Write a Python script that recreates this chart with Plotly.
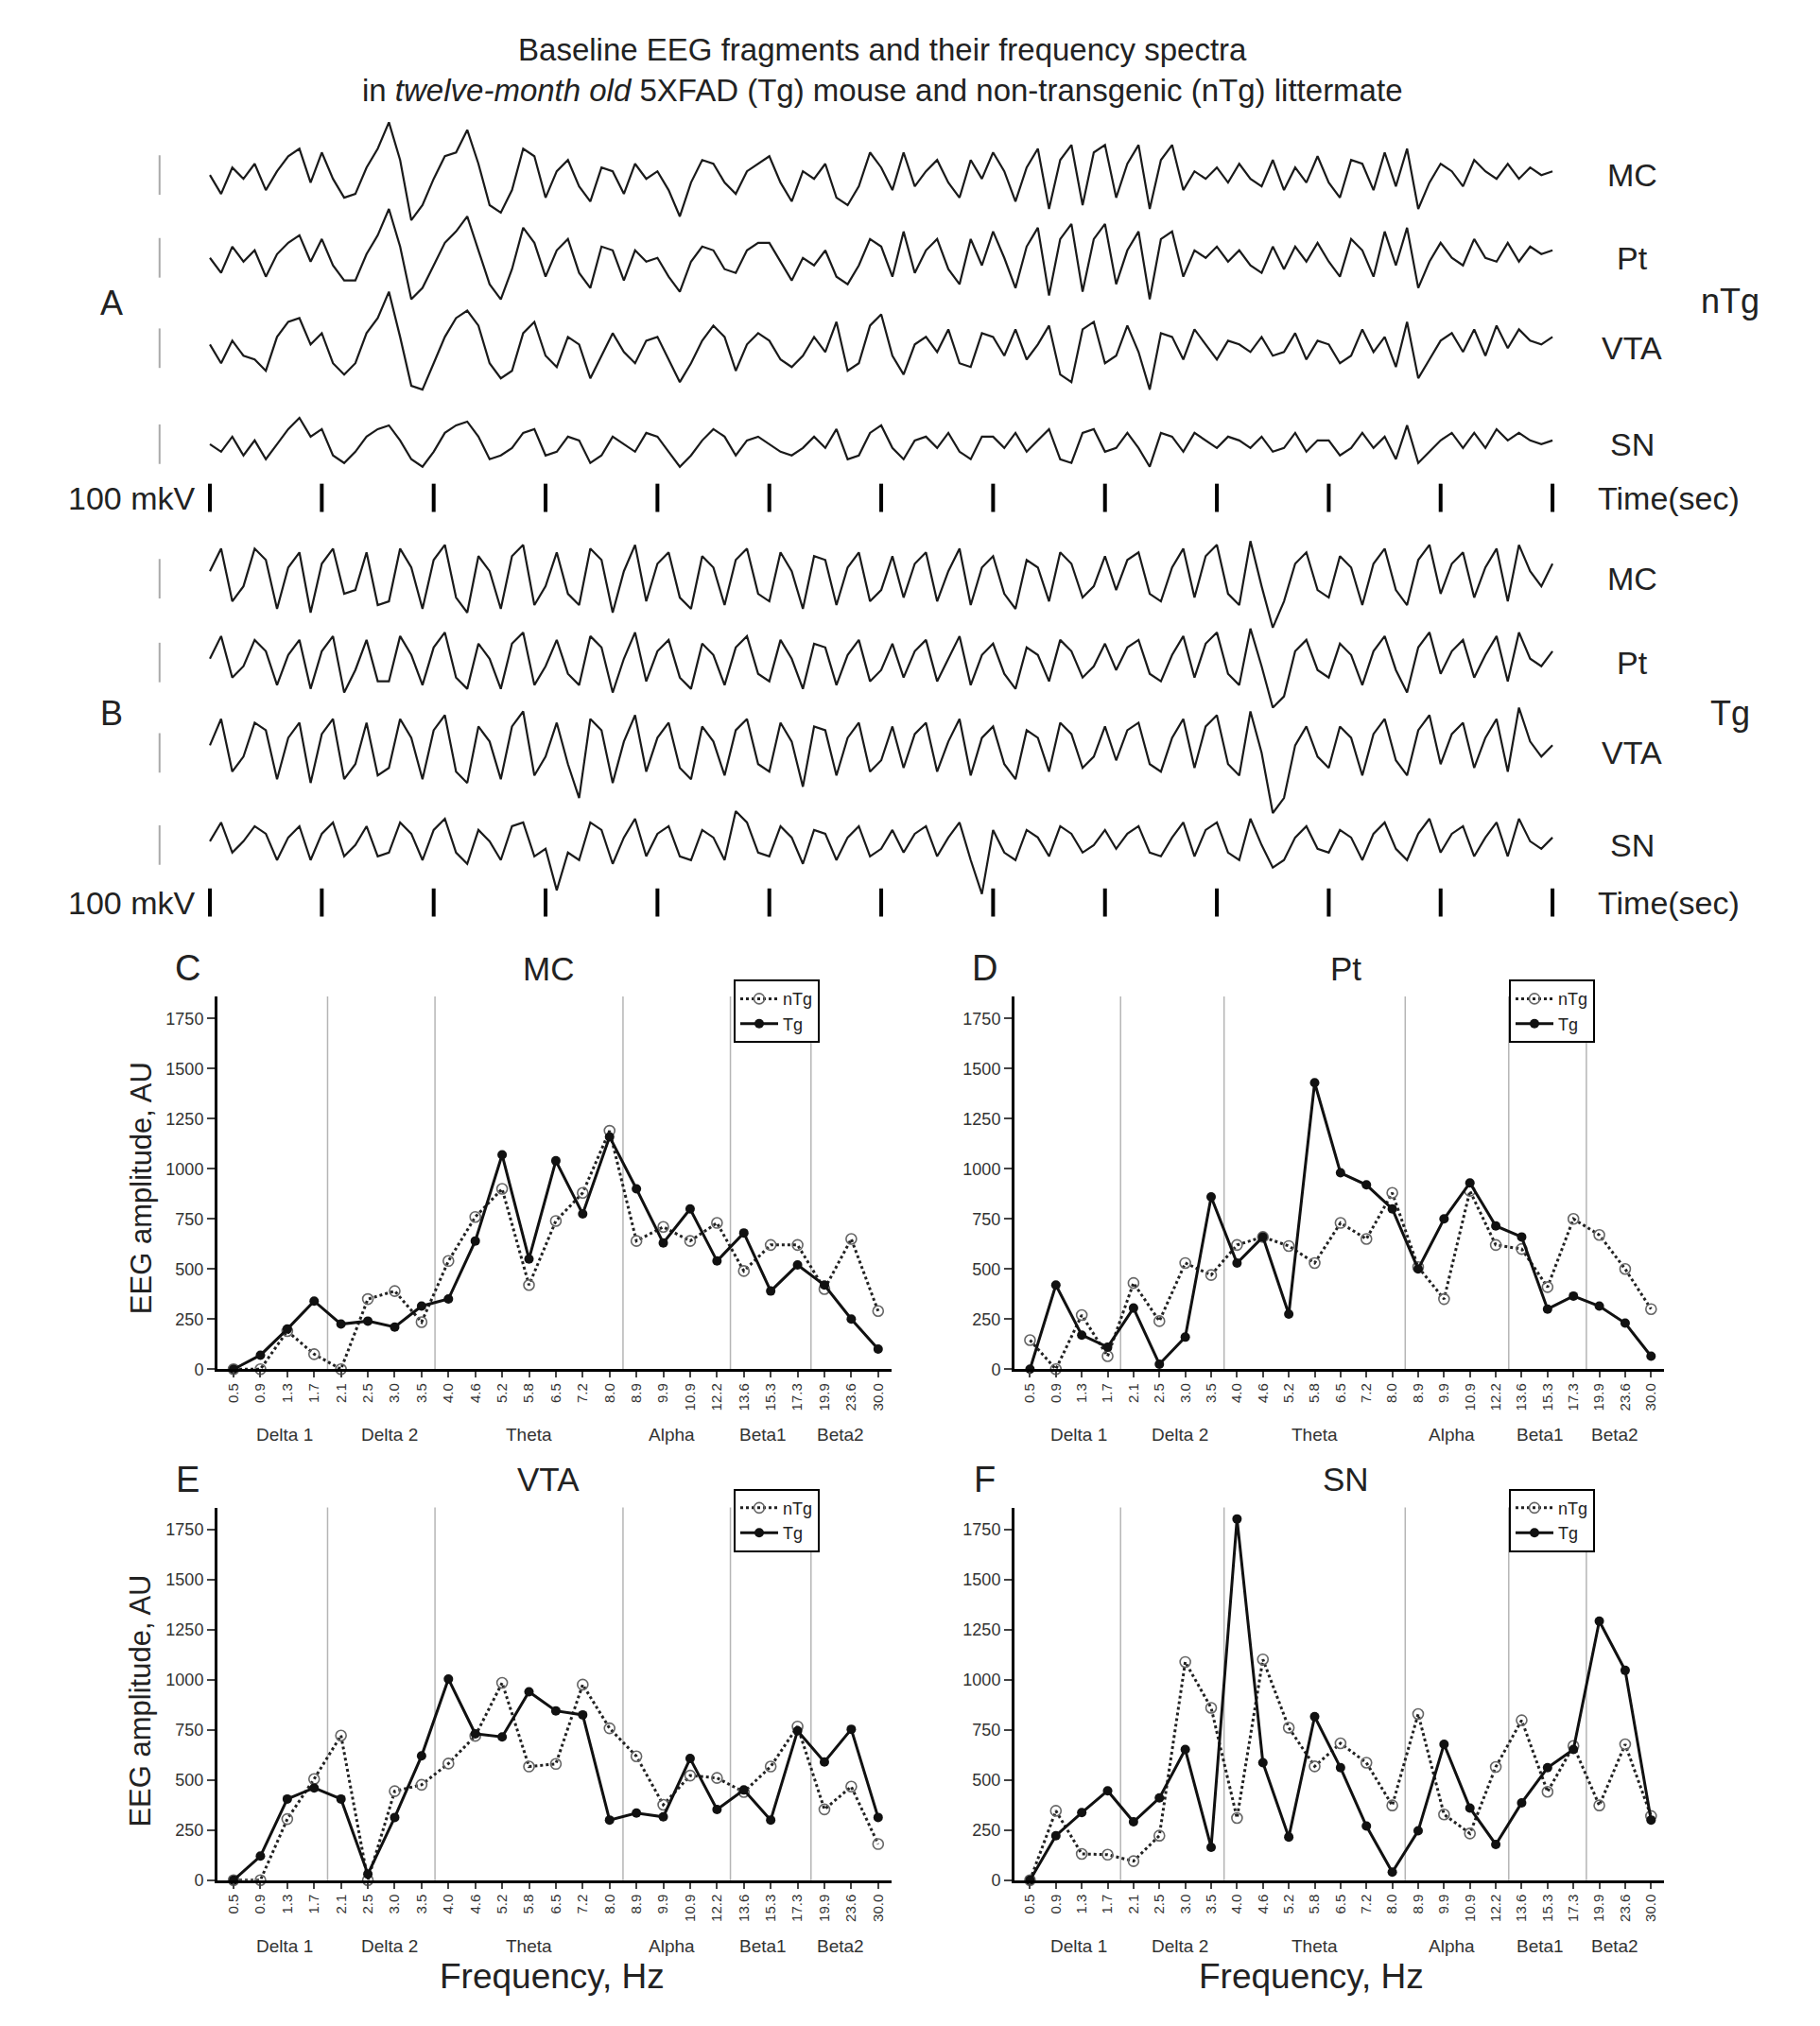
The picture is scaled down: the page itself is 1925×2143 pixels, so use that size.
import numpy as np
import plotly.graph_objects as go

W, H = 1925, 2143

# ---- EEG fragments (approx. microvolts, 10 samples per second, 12 s) ----
a_mc = [0,-25,10,-5,15,-20,5,25,35,-10, 30,-5,-30,-25,10,35,70,20,-60,-40, -5,25,30,60,15,-40,-50,-20,35,25,
        -30,5,20,-15,-35,10,5,-25,15,-5, 5,-20,-55,-10,20,15,-10,-25,5,15, 25,-10,-35,5,-5,15,-30,-40,-15,30,
        10,-20,30,-15,5,20,-10,-30,20,-5, 30,5,-35,10,35,-45,20,40,-40,30, 40,-30,15,40,-45,20,40,-20,5,-5,
        10,-10,15,-5,-15,20,-20,10,-10,25, -10,-30,20,15,-20,30,-15,35,-45,-10, 15,5,-15,20,5,-5,15,-5,10,0, 5]
a_pt = [0,-20,15,-5,10,-25,5,20,30,-5, 25,-10,-30,-30,5,30,65,15,-55,-40, -10,20,35,55,10,-35,-55,-15,40,20,
        -25,10,25,-20,-40,15,10,-30,10,-5, 0,-25,-45,-5,15,10,-15,-20,10,20, 20,-5,-30,0,-10,10,-25,-35,-10,25,
        15,-25,35,-20,10,25,-15,-35,25,-10, 35,0,-40,15,40,-50,25,45,-45,25, 45,-35,10,35,-55,25,35,-25,10,0,
        15,-5,10,-10,-20,15,-15,15,-5,20, -5,-25,25,10,-25,35,-10,40,-40,-5, 20,0,-10,25,0,-5,20,-5,15,5, 10]
a_vta = [5,-20,10,-10,-15,-30,15,35,40,5, 20,-20,-35,-20,20,40,75,15,-50,-55, -20,15,40,50,30,-20,-40,-30,20,35,
         -10,-25,15,5,-40,-10,20,-5,-20,10, 15,-15,-45,-20,10,30,15,-30,5,20, 10,-15,-25,-10,15,-5,35,-30,-20,30,
         45,-10,-35,5,15,-5,25,-20,-25,20, 15,-10,25,-15,5,30,-35,-45,25,35, -20,-10,30,-5,-55,20,15,-15,25,5,
         -15,10,5,-5,15,-10,-5,20,-15,10, 5,-20,-10,25,-5,15,-25,35,-40,-15, 10,20,-5,25,-10,30,0,25,10,5, 15]
a_sn = [0,-10,10,-15,5,-20,0,20,35,10, 20,-15,-25,-10,10,20,25,5,-20,-30, -10,15,25,30,10,-20,-15,-5,15,20,
        -15,-10,10,5,-25,-15,10,0,-10,15, 10,-10,-30,-15,5,20,10,-15,5,10, 0,-10,-15,-5,10,-5,20,-20,-15,15,
        25,-5,-20,5,10,-5,15,-10,-20,10, 10,-5,15,-10,5,20,-20,-25,15,20, -10,-5,15,-5,-30,15,10,-10,15,5,
        -5,10,5,-5,10,-10,-5,15,-10,5, 5,-15,-5,15,-5,10,-20,25,-25,-10, 5,15,-5,15,-5,20,5,15,5,0, 5]
b_mc = [10,40,-30,-10,40,25,-40,15,35,-45, 20,40,-20,-15,35,-35,-30,40,15,-40, 25,45,-25,-45,30,10,-40,30,45,-35,
        -10,35,-20,-35,40,25,-45,10,45,-30, 20,35,-25,-40,30,15,-35,25,40,-20, -30,35,10,-40,30,25,-35,15,35,-30,
        -15,30,-25,20,35,-30,10,40,-35,15, 30,-20,-40,25,15,-30,35,20,-25,-10, 30,-15,25,35,-20,-30,15,40,-25,30,
        45,-20,-35,50,-10,-65,-30,20,35,-15, -25,30,15,-35,20,40,-15,-35,25,45, -20,20,35,-25,15,40,-30,45,10,-10, 20]
b_pt = [5,35,-20,-5,30,15,-30,10,30,-35, 15,35,-40,-10,30,-25,-25,35,10,-30, 20,40,-20,-35,25,5,-35,25,40,-30,
        -5,30,-15,-30,35,20,-40,5,40,-25, 15,30,-20,-35,25,10,-30,20,35,-15, -25,30,5,-35,25,20,-30,10,30,-25,
        -10,25,-20,15,30,-25,5,35,-30,10, 25,-15,-35,20,10,-25,30,15,-20,-5, 25,-10,20,30,-15,-25,10,35,-20,25,
        40,-15,-30,45,-5,-60,-45,15,30,-10, -20,25,10,-30,15,35,-10,-40,20,40, -15,15,30,-20,10,35,-25,40,5,-5, 15]
b_vta = [10,45,-25,-5,40,30,-35,20,40,-40, 25,45,-35,-15,40,-30,-20,45,20,-35, 30,50,-25,-40,35,15,-35,35,55,-30,
         -5,40,-15,-60,45,30,-40,15,50,-25, 20,40,-20,-35,35,15,-30,30,45,-15, -25,40,15,-45,35,30,-30,20,40,-25,
         -10,35,-20,25,40,-25,15,45,-30,20, 35,-15,-35,30,20,-25,40,25,-20,-5, 35,-10,30,40,-15,-25,20,45,-20,35,
         50,-15,-30,55,0,-80,-60,10,35,-5, -20,35,20,-30,25,45,-10,-30,30,50, -15,25,40,-20,20,45,-25,60,15,-5, 10]
b_sn = [5,30,-10,5,25,15,-20,10,25,-20, 15,30,-15,0,25,-15,-10,30,15,-20, 20,35,-10,-25,20,5,-20,25,30,-15,
        -5,-60,-10,-20,30,20,-25,10,35,-15, 15,25,-15,-20,20,10,-20,45,30,-10, -15,25,10,-25,20,15,-20,10,25,-15,
        -5,20,-10,15,25,-15,10,30,-20,-65, 20,-10,-20,20,10,-15,25,15,-10,0, 20,-5,15,25,-10,-15,10,30,-15,20,
        30,-10,-20,35,0,-30,-20,10,25,-5, -10,20,10,-20,15,30,-5,-20,15,35, -10,15,25,-15,10,30,-15,35,5,-5, 10]

channels = ["MC", "Pt", "VTA", "SN"]
traces_a = [a_mc, a_pt, a_vta, a_sn]
traces_b = [b_mc, b_pt, b_vta, b_sn]
seconds = list(range(13))

# ---- spectra ----
freqs = ["0.5","0.9","1.3","1.7","2.1","2.5","3.0","3.5","4.0","4.6","5.2","5.8","6.5","7.2","8.0",
         "8.9","9.9","10.9","12.2","13.6","15.3","17.3","19.9","23.6","30.0"]
bands = ["Delta 1", "Delta 2", "Theta", "Alpha", "Beta1", "Beta2"]

mc_tg  = [0,70,200,340,225,240,210,315,350,640,1070,550,1040,775,1160,900,630,800,540,680,390,520,420,250,100]
mc_ntg = [0,0,190,75,0,350,390,235,540,760,900,420,740,880,1190,640,710,640,730,490,620,620,400,650,290]
pt_tg  = [0,420,170,110,305,25,160,860,530,660,275,1430,980,920,800,500,750,930,715,660,300,365,315,230,65]
pt_ntg = [145,0,270,65,430,240,530,470,620,660,615,530,730,650,880,510,350,890,620,600,410,750,670,500,300]
vta_tg  = [0,120,405,460,405,30,313,620,1004,730,715,940,845,825,300,335,316,607,353,450,300,745,590,753,313]
vta_ntg = [0,0,305,505,722,0,444,476,582,720,985,567,580,976,758,618,376,522,510,440,567,767,353,467,180]
sn_tg  = [0,222,337,446,291,410,652,164,1803,586,215,816,561,270,40,246,678,360,178,386,561,652,1293,1047,300]
sn_ntg = [0,346,131,127,95,222,1089,860,310,1102,761,568,683,586,373,829,328,233,565,798,441,670,373,678,320]

fig = go.Figure()
FONT = "Liberation Sans, Arial, sans-serif"


def note(text, x, y, size, **kw):
    d = dict(text=text, xref="paper", yref="paper", x=x / W, y=1 - y / H, showarrow=False,
             xanchor="center", yanchor="middle", font=dict(size=size, color="#222"))
    d.update(kw)
    return d


# ---- EEG block (y axis in pixel units, negative downwards) ----
row_a = [178, 266, 362, 464]
row_b = [607, 696, 792, 890]
time_rows = [521, 951]
gain = 0.8

for rows, data in [(row_a, traces_a), (row_b, traces_b)]:
    for r, v in zip(rows, data):
        t = np.linspace(0, 12, len(v))
        fig.add_trace(go.Scatter(x=t, y=[-r + gain * s for s in v], mode="lines",
                                 line=dict(color="#1a1a1a", width=2.2), showlegend=False,
                                 xaxis="x", yaxis="y", hoverinfo="skip"))
        fig.add_trace(go.Scatter(x=[-0.45, -0.45], y=[-r - 21, -r + 21], mode="lines",
                                 line=dict(color="#aaaaaa", width=2), showlegend=False,
                                 xaxis="x", yaxis="y", hoverinfo="skip"))
for tr in time_rows:
    xs, ys = [], []
    for s in seconds:
        xs += [s, s, None]
        ys += [-tr - 15, -tr + 15, None]
    fig.add_trace(go.Scatter(x=xs, y=ys, mode="lines", line=dict(color="black", width=4),
                             showlegend=False, xaxis="x", yaxis="y", hoverinfo="skip"))

# ---- spectra panels ----
panels = [
    ("C", "MC", mc_ntg, mc_tg, (222, 935), (1051, 1447), "legend"),
    ("D", "Pt", pt_ntg, pt_tg, (1065, 1752), (1051, 1447), "legend2"),
    ("E", "VTA", vta_ntg, vta_tg, (222, 935), (1594, 1990), "legend3"),
    ("F", "SN", sn_ntg, sn_tg, (1065, 1752), (1594, 1990), "legend4"),
]
band_pos = [1.9, 5.8, 11.0, 16.3, 19.7, 22.6]
legend_pos = [(768, 1033), (1588, 1033), (768, 1574), (1588, 1574)]
idx = list(range(len(freqs)))

layout_axes = {}
annotations = []
shapes = []
for k, (letter, name, ntg, tg, xd, yd, leg) in enumerate(panels):
    n = k + 2
    xa, ya = f"x{n}", f"y{n}"
    fig.add_trace(go.Scatter(x=idx, y=ntg, mode="lines+markers", name="nTg", legend=leg,
                             line=dict(color="#222222", width=3, dash="dot"),
                             marker=dict(symbol="circle-open", size=11, color="#666666", line=dict(width=1.6)),
                             xaxis=xa, yaxis=ya, cliponaxis=False))
    fig.add_trace(go.Scatter(x=idx, y=tg, mode="lines+markers", name="Tg", legend=leg,
                             line=dict(color="#111111", width=3),
                             marker=dict(symbol="circle", size=10, color="#111111"),
                             xaxis=xa, yaxis=ya, cliponaxis=False))
    layout_axes[f"xaxis{n}"] = dict(domain=[xd[0] / W, xd[1] / W], anchor=ya, range=[-0.6, 24.5],
                                    tickmode="array", tickvals=idx, ticktext=freqs, tickangle=-90,
                                    tickfont=dict(size=15, color="#333"), showline=True, linecolor="black",
                                    linewidth=3, ticks="outside", ticklen=6, tickwidth=2,
                                    showgrid=False, zeroline=False, fixedrange=True)
    layout_axes[f"yaxis{n}"] = dict(domain=[1 - yd[1] / H, 1 - yd[0] / H], anchor=xa, range=[0, 1860],
                                    tickvals=[0, 250, 500, 750, 1000, 1250, 1500, 1750],
                                    tickfont=dict(size=18, color="#333"), showline=True, linecolor="black",
                                    linewidth=3, ticks="outside", ticklen=8, tickwidth=2,
                                    showgrid=False, zeroline=False)
    for b in [3.5, 7.5, 14.5, 18.5, 21.5]:
        shapes.append(dict(type="line", xref=xa, yref=f"{ya} domain", x0=b, x1=b, y0=0, y1=1,
                           line=dict(color="#b5b5b5", width=1.5), layer="below"))
    by = 1 - (yd[1] + 70) / H
    for bn, bp in zip(bands, band_pos):
        annotations.append(dict(text=bn, xref=xa, yref="paper", x=bp, y=by, showarrow=False,
                                yanchor="middle", font=dict(size=19, color="#333")))
    annotations.append(note(letter, xd[0] - 32, yd[0] - 30, 38))
    annotations.append(note(name, xd[0] + 350, yd[0] - 30, 35))
    lx, ly = legend_pos[k]
    layout_axes[leg] = dict(x=lx / W, y=1 - ly / H, xanchor="left", yanchor="top",
                            bordercolor="black", borderwidth=2, bgcolor="white",
                            font=dict(size=18, color="#222"), tracegroupgap=0,
                            itemwidth=40)

annotations.append(note("EEG amplitude, AU", 141, 1255, 31, textangle=-90))
annotations.append(note("EEG amplitude, AU", 141, 1800, 31, textangle=-90))
annotations.append(note("Frequency, Hz", 576, 2092, 37))
annotations.append(note("Frequency, Hz", 1379, 2092, 37))

# ---- EEG labels ----
for rows in (row_a, row_b):
    for r, ch in zip(rows, channels):
        annotations.append(note(ch, 1718, r, 34))
for tr in time_rows:
    annotations.append(note("Time(sec)", 1680, tr, 34, xanchor="left"))
    annotations.append(note("100 mkV", 200, tr, 34, xanchor="right"))
annotations.append(note("A", 110, 314, 36))
annotations.append(note("B", 110, 750, 36))
annotations.append(note("nTg", 1822, 312, 36))
annotations.append(note("Tg", 1822, 750, 36))
annotations.append(note("Baseline EEG fragments and their frequency spectra<br>"
                        "in <i>twelve-month old</i> 5XFAD (Tg) mouse and non-transgenic (nTg) littermate",
                        925, 66, 33))

fig.update_layout(
    width=W, height=H, margin=dict(l=0, r=0, t=0, b=0),
    paper_bgcolor="white", plot_bgcolor="white",
    font=dict(family=FONT),
    xaxis=dict(domain=[150 / W, 1640 / W], range=[-0.541, 12.05], visible=False, fixedrange=True),
    yaxis=dict(domain=[1 - 975 / H, 1 - 120 / H], range=[-975, -120], visible=False, fixedrange=True),
    annotations=annotations, shapes=shapes,
    **layout_axes,
)

fig.write_html("out.html")
